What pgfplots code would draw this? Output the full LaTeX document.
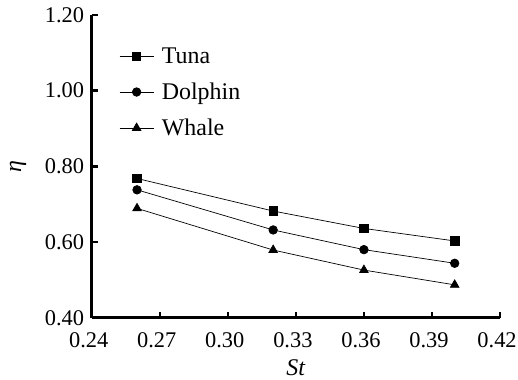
\documentclass[border=0pt]{standalone}
\usepackage{fontspec}
\setmainfont{Liberation Serif}
\usepackage{pgfplots}
\pgfplotsset{compat=1.18}
\begin{document}
\begin{tikzpicture}
\useasboundingbox (-92pt,-62pt) rectangle (428pt,319pt);
\begin{axis}[
  scale only axis,
  width=410pt, height=304pt,
  anchor=south west, at={(0,0)},
  xmin=0.24, xmax=0.42, ymin=0.40, ymax=1.20,
  xtick={0.24,0.27,...,0.42},
  ytick={0.40,0.60,...,1.20},
  axis lines*=left,
  axis line style={line width=2.6pt, black},
  tick style={line width=2.4pt, black},
  tick align=inside,
  major tick length=6pt,
  every axis plot/.append style={black, line width=0.7pt},
  tick label style={font=\fontsize{22.5}{25}\selectfont},
  label style={font=\fontsize{24}{26}\selectfont},
  /pgf/number format/assume math mode=true,
  /pgf/number format/fixed,
  /pgf/number format/fixed zerofill,
  /pgf/number format/precision=2,
  xticklabel style={yshift=-11pt, xshift=-3pt},
  yticklabel style={xshift=-4pt},
  xlabel={\textit{St}},
  ylabel={\textit{η}},
  xlabel style={yshift=-5pt},
  ylabel style={yshift=12pt},
  legend style={draw=none, fill=none, at={(0.06,0.905)}, anchor=north west,
    row sep=14pt, font=\fontsize{24}{26}\selectfont,
    nodes={inner xsep=8pt}},
  legend cell align=left,
  legend image code/.code={\draw[#1] (0pt,0pt) -- (34pt,0pt); \draw[#1,only marks] plot coordinates {(17pt,0pt)};},
  clip=false,
]
\addplot[mark=square*, mark size=4.2pt] coordinates {(0.26,0.768) (0.32,0.682) (0.36,0.636) (0.40,0.603)};
\addlegendentry{Tuna}
\addplot[mark=*, mark size=4.3pt] coordinates {(0.26,0.738) (0.32,0.632) (0.36,0.580) (0.40,0.544)};
\addlegendentry{Dolphin}
\addplot[mark=triangle*, mark size=5pt] coordinates {(0.26,0.689) (0.32,0.579) (0.36,0.526) (0.40,0.487)};
\addlegendentry{Whale}
\end{axis}
\end{tikzpicture}
\end{document}
